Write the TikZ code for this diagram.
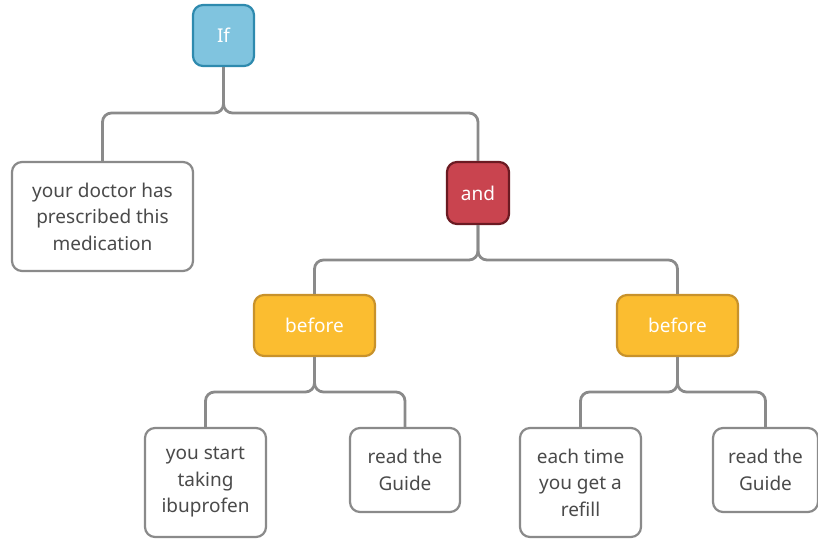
\documentclass[tikz,border=0pt]{standalone}
\usepackage{fontspec}
\setmainfont{Noto Sans}
\definecolor{ifblue}{HTML}{80C4DF}
\definecolor{ifline}{HTML}{2E8AAE}
\definecolor{andred}{HTML}{C9444F}
\definecolor{andline}{HTML}{6B1A22}
\definecolor{beforeyellow}{HTML}{FBBD30}
\definecolor{beforeline}{HTML}{C8922B}
\definecolor{leafline}{HTML}{8A8A8A}
\definecolor{leaftext}{HTML}{4A4A4A}
\definecolor{linkgray}{HTML}{8A8A8A}

\begin{document}
\begin{tikzpicture}[x=1pt, y=-1pt,
box/.style={draw, rounded corners=10pt, line width=2.2pt, align=center, inner sep=0pt, font=\fontsize{19}{26.5}\selectfont},
leaf/.style={box, draw=leafline, fill=white, text=leaftext},
op/.style={box, text=white},
link/.style={draw=linkgray, line width=2.8pt, rounded corners=9pt}]
\useasboundingbox (0,0) rectangle (818,538);

%Operators
\node[op, fill=ifblue, draw=ifline, minimum width=61, minimum height=61] (if) at (223.5,35.5) {If};
\node[op, fill=andred, draw=andline, minimum width=62, minimum height=62] (and) at (478,193) {and};
\node[op, fill=beforeyellow, draw=beforeline, minimum width=121, minimum height=61] (beforeA) at (314.5,325.5) {before};
\node[op, fill=beforeyellow, draw=beforeline, minimum width=121, minimum height=61] (beforeB) at (677.5,325.5) {before};

%Conditions
\node[leaf, minimum width=181, minimum height=109] (doctor) at (102.5,216.5) {your doctor has\\prescribed this\\medication};
\node[leaf, minimum width=121, minimum height=109] (start) at (205.5,482.5) {you start\\taking\\ibuprofen};
\node[leaf, minimum width=110, minimum height=84] (guideA) at (405,470) {read the\\Guide};
\node[leaf, minimum width=121, minimum height=109] (refill) at (580.5,482.5) {each time\\you get a\\refill};
\node[leaf, minimum width=105, minimum height=84] (guideB) at (765.5,470) {read the\\Guide};

%Links
\draw[link] (if.south) -- (if.south |- 0,113) -| (doctor.north);
\draw[link] (if.south) -- (if.south |- 0,113) -| (and.north);
\draw[link] (and.south) -- (and.south |- 0,260) -| (beforeA.north);
\draw[link] (and.south) -- (and.south |- 0,260) -| (beforeB.north);
\draw[link] (beforeA.south) -- (beforeA.south |- 0,392) -| (start.north);
\draw[link] (beforeA.south) -- (beforeA.south |- 0,392) -| (guideA.north);
\draw[link] (beforeB.south) -- (beforeB.south |- 0,392) -| (refill.north);
\draw[link] (beforeB.south) -- (beforeB.south |- 0,392) -| (guideB.north);
\end{tikzpicture}
\end{document}
